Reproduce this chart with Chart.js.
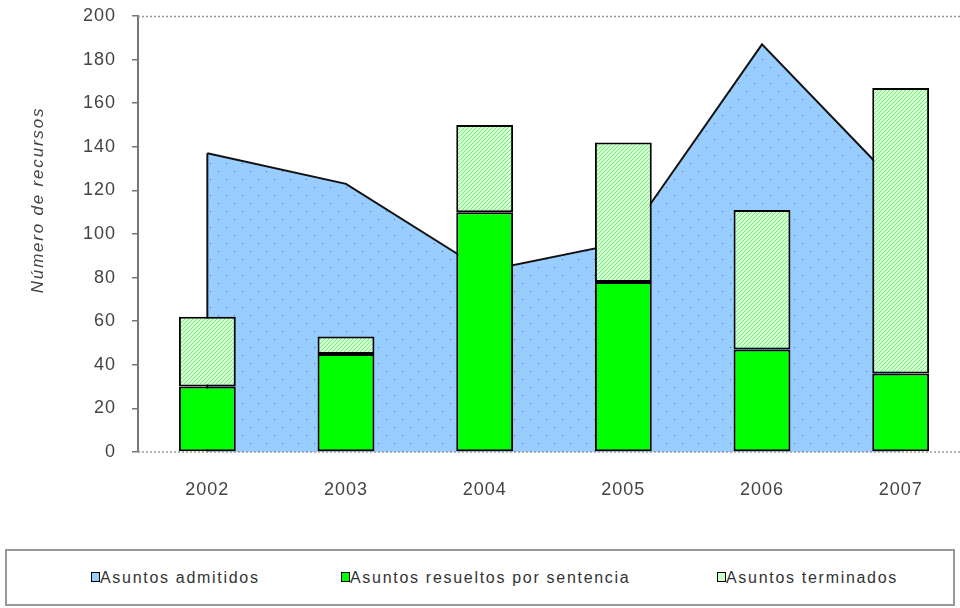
<!DOCTYPE html>
<html>
<head>
<meta charset="utf-8">
<script src="https://cdn.jsdelivr.net/npm/chart.js@4.4.1/dist/chart.umd.min.js"></script>
<style>
  html, body { margin: 0; padding: 0; background: #fff; overflow: hidden; }
  #wrap { position: relative; width: 970px; height: 608px; }
  #chartBox { position: absolute; left: 0; top: 0; width: 970px; height: 540px; }
  #legend {
    position: absolute; left: 5px; top: 549px; width: 950px; height: 57px;
    border: 2px solid #999; box-sizing: border-box;
    font-family: "Liberation Sans", Arial, sans-serif; font-size: 16px; color: #333;
    letter-spacing: 1.7px;
  }
  #legend .item { position: absolute; top: 18px; white-space: nowrap; }
  #legend .sw { display: inline-block; width: 7px; height: 8px; border: 1px solid #000; margin-right: 0px; vertical-align: 1px; }
</style>
</head>
<body>
<div id="wrap">
  <div id="chartBox"><canvas id="mainChart"></canvas></div>
  <div id="legend"></div>
</div>
<script>
// Datos del gráfico
const anios = ['2002', '2003', '2004', '2005', '2006', '2007'];
const admitidos = [137, 123, 83, 96, 187, 121];
const resueltos = [30, 45, 110, 78, 47, 36];
const terminados = [32, 8, 40, 64, 64, 131];
const nombres = ['Asuntos admitidos', 'Asuntos resueltos por sentencia', 'Asuntos terminados'];
const tituloY = 'Número de recursos';
const yTicks = [0, 20, 40, 60, 80, 100, 120, 140, 160, 180, 200];

// Tramas (puntos azules y rayado verde)
function dotPattern() {
    const c = document.createElement('canvas');
    c.width = 16; c.height = 16;
    const x = c.getContext('2d');
    x.fillStyle = '#99ccff';
    x.fillRect(0, 0, 16, 16);
    x.fillStyle = '#3f6fe0';
    x.fillRect(2, 3, 1, 1);
    x.fillRect(10, 11, 1, 1);
    x.fillStyle = '#66ffff';
    x.fillRect(10, 3, 1, 1);
    x.fillRect(2, 11, 1, 1);
    return x.createPattern(c, 'repeat');
}
function hatchPattern() {
    const c = document.createElement('canvas');
    c.width = 4; c.height = 4;
    const x = c.getContext('2d');
    x.fillStyle = '#d6ffd6';
    x.fillRect(0, 0, 4, 4);
    x.fillStyle = '#70f070';
    for (let i = 0; i < 4; i++) x.fillRect(i, 3 - i, 1, 1);
    return x.createPattern(c, 'repeat');
}

const pDots = dotPattern();
const pHatch = hatchPattern();

// Leyenda en HTML
const legendColors = ['#99ccff', '#00ff00', '#ccffcc'];
const legendX = [84, 334, 710];
const lg = document.getElementById('legend');
nombres.forEach((n, i) => {
    const d = document.createElement('div');
    d.className = 'item';
    d.style.left = legendX[i] + 'px';
    d.innerHTML = '<span class="sw" style="background:' + legendColors[i] + '"></span>' + n;
    lg.appendChild(d);
});

// Borde izquierdo del área, líneas punteadas y título del eje Y
const extras = {
    id: 'extras',
    beforeDraw(chart) {
        chart.ctx.letterSpacing = '1px';
    },
    afterDatasetDraw(chart, args) {
        if (args.index !== 0) return;
        const ctx = chart.ctx;
        const x = chart.scales.x, y = chart.scales.y;
        ctx.save();
        ctx.strokeStyle = '#111';
        ctx.lineWidth = 2;
        ctx.beginPath();
        ctx.moveTo(x.getPixelForValue(0), y.getPixelForValue(admitidos[0]));
        ctx.lineTo(x.getPixelForValue(0), y.getPixelForValue(0));
        ctx.stroke();
        ctx.restore();
    },
    afterDraw(chart) {
        const ctx = chart.ctx;
        const a = chart.chartArea;
        ctx.save();
        ctx.strokeStyle = '#999';
        ctx.lineWidth = 1.5;
        ctx.setLineDash([2, 2]);
        ctx.beginPath();
        ctx.moveTo(a.left, a.top + 0.5);
        ctx.lineTo(a.right, a.top + 0.5);
        ctx.moveTo(a.left, a.bottom);
        ctx.lineTo(a.right, a.bottom);
        ctx.stroke();
        ctx.restore();

        ctx.save();
        ctx.translate(38, 200);
        ctx.rotate(-Math.PI / 2);
        ctx.font = 'italic 17px "Liberation Sans"';
        ctx.letterSpacing = '1.8px';
        ctx.fillStyle = '#444';
        ctx.textAlign = 'center';
        ctx.textBaseline = 'middle';
        ctx.fillText(tituloY, 0, 0);
        ctx.restore();
    }
};

new Chart(document.getElementById('mainChart'), {
    data: {
        labels: anios,
        datasets: [
            {
                type: 'line',
                label: nombres[0],
                data: admitidos,
                stack: 'area',
                order: 3,
                borderColor: '#111',
                borderWidth: 2,
                backgroundColor: pDots,
                fill: 'origin',
                pointRadius: 0,
                tension: 0
            },
            {
                type: 'bar',
                label: nombres[1],
                data: resueltos,
                stack: 'barras',
                order: 1,
                backgroundColor: '#00ff00',
                borderColor: '#000',
                borderWidth: 2,
                borderSkipped: false,
                barPercentage: 0.41,
                categoryPercentage: 1
            },
            {
                type: 'bar',
                label: nombres[2],
                data: terminados,
                stack: 'barras',
                order: 2,
                backgroundColor: pHatch,
                borderColor: '#000',
                borderWidth: 2,
                borderSkipped: false,
                barPercentage: 0.41,
                categoryPercentage: 1
            }
        ]
    },
    options: {
        responsive: true,
        maintainAspectRatio: false,
        animation: false,
        layout: { padding: { top: 16, left: 0, right: 0, bottom: 0 } },
        plugins: { legend: { display: false }, tooltip: { enabled: false } },
        scales: {
            x: {
                offset: true,
                grid: { display: false, drawTicks: false },
                border: { display: false },
                ticks: { color: '#444', padding: 27, font: { family: 'Liberation Sans', size: 18 } },
                afterFit: s => { s.height = 88; s.paddingLeft = 0; s.paddingRight = 0; }
            },
            y: {
                stacked: true,
                min: 0,
                max: 200,
                afterBuildTicks: s => { s.ticks = yTicks.map(v => ({ value: v })); },
                grid: { drawOnChartArea: false, drawTicks: true, tickLength: 6, color: '#777', lineWidth: 1.5 },
                border: { display: true, color: '#777', width: 2 },
                ticks: { color: '#444', padding: 16, font: { family: 'Liberation Sans', size: 18 } },
                afterFit: s => { s.width = 138; s.paddingTop = 0; s.paddingBottom = 0; }
            }
        }
    },
    plugins: [extras]
});
</script>
</body>
</html>
